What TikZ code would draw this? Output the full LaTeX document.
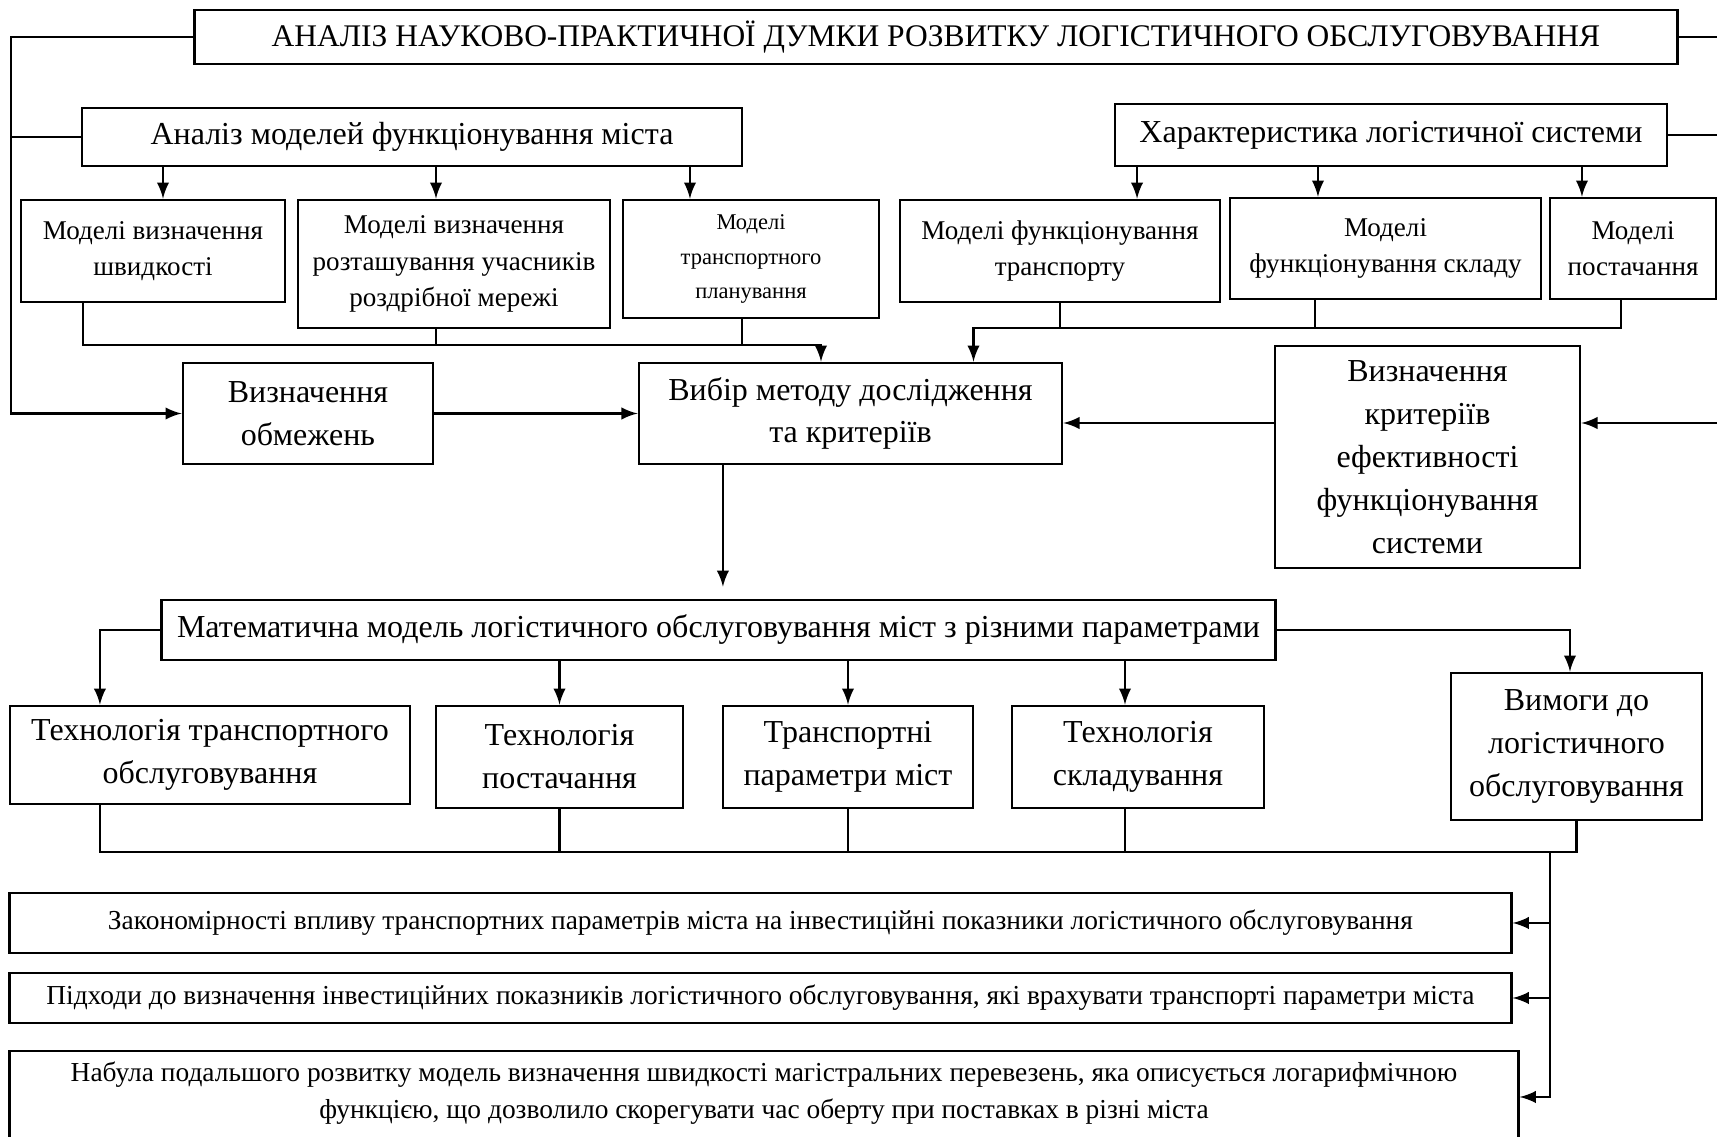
\documentclass[tikz,border=0pt]{standalone}
\usepackage{fontspec}
\setmainfont{Liberation Serif}
\begin{document}
\begin{tikzpicture}[x=0.01cm,y=-0.01cm,line width=0.6pt]
    \tikzstyle{every node}=[draw,rectangle,inner sep=0pt,align=center,line width=0.7pt]
    \tikzstyle{titletext}=[font=\fontsize{8.95}{11}\selectfont]
    \tikzstyle{bigtext}=[font=\fontsize{9.1}{12.2}\selectfont]
    \tikzstyle{midtext}=[font=\fontsize{7.7}{10.4}\selectfont]
    \tikzstyle{smalltext}=[font=\fontsize{6.4}{9.8}\selectfont]
    \tikzstyle{lowtext}=[font=\fontsize{7.8}{10.5}\selectfont]
    \useasboundingbox (0,0) rectangle (1717,1137);
    \draw (936,37) node[titletext,minimum width=14.82cm,minimum height=0.54cm] (1) {АНАЛІЗ НАУКОВО-ПРАКТИЧНОЇ ДУМКИ РОЗВИТКУ ЛОГІСТИЧНОГО ОБСЛУГОВУВАННЯ};
    \draw (412,137) node[bigtext,minimum width=6.60cm,minimum height=0.58cm] (2) {Аналіз моделей функціонування міста};
    \draw (1391,135) node[bigtext,minimum width=5.52cm,minimum height=0.62cm] (3) {Характеристика логістичної системи};
    \draw (153,251) node[midtext,minimum width=2.64cm,minimum height=1.02cm] (4) {Моделі визначення\\швидкості};
    \draw (454,264) node[midtext,minimum width=3.12cm,minimum height=1.28cm] (5) {Моделі визначення\\розташування учасників\\роздрібної мережі};
    \draw (751,259) node[smalltext,minimum width=2.56cm,minimum height=1.18cm] (6) {Моделі\\транспортного\\планування};
    \draw (1060,251) node[midtext,minimum width=3.20cm,minimum height=1.02cm] (7) {Моделі функціонування\\транспорту};
    \draw (1385.5,248.5) node[midtext,minimum width=3.11cm,minimum height=1.01cm] (8) {Моделі\\функціонування складу};
    \draw (1633,248.5) node[midtext,minimum width=1.66cm,minimum height=1.01cm] (9) {Моделі\\постачання};
    \draw (308,413.5) node[bigtext,minimum width=2.50cm,minimum height=1.01cm] (10) {Визначення\\обмежень};
    \draw (850.5,413.5) node[bigtext,minimum width=4.23cm,minimum height=1.01cm] (11) {Вибір методу дослідження\\та критеріїв};
    \draw (1427.5,457) node[bigtext,minimum width=3.05cm,minimum height=2.22cm] (12) {Визначення\\критеріїв\\ефективності\\функціонування\\системи};
    %%%%%
    \draw (718.5,630) node[bigtext,minimum width=11.13cm,minimum height=0.60cm] (13) {Математична модель логістичного обслуговування міст з різними параметрами};
    \draw (210,755) node[bigtext,minimum width=4.00cm,minimum height=0.98cm] (14) {Технологія транспортного\\обслуговування};
    \draw (559.5,757) node[bigtext,minimum width=2.47cm,minimum height=1.02cm] (15) {Технологія\\постачання};
    \draw (848,757) node[bigtext,minimum width=2.50cm,minimum height=1.02cm] (16) {Транспортні\\параметри міст};
    \draw (1138,757) node[bigtext,minimum width=2.52cm,minimum height=1.02cm] (17) {Технологія\\складування};
    \draw (1576.5,746.5) node[bigtext,minimum width=2.51cm,minimum height=1.47cm] (18) {Вимоги до\\логістичного\\обслуговування};
    %%%%%
    \draw (760.5,923) node[lowtext,minimum width=15.01cm,minimum height=0.60cm] (19) {Закономірності впливу транспортних параметрів міста на інвестиційні показники логістичного обслуговування};
    \draw (760.5,998) node[lowtext,minimum width=15.01cm,minimum height=0.50cm] (20) {Підходи до визначення інвестиційних показників логістичного обслуговування, які врахувати транспорті параметри міста};
    \draw (764,1050) node[lowtext,anchor=north,minimum width=15.08cm,inner ysep=3pt,text depth=2cm] (21) {Набула подальшого розвитку модель визначення швидкості магістральних перевезень, яка описується логарифмічною\\функцією, що дозволило скорегувати час оберту при поставках в різні міста};
    %%%%% side rails
    \coordinate (c1) at (11,37);
    \coordinate (c2) at (1717,37);
    \coordinate (c3) at (1717,135);
    \coordinate (c4) at (1717,423);
    \draw[-latex] (1.west) -- (c1) |- (10.west);
    \draw (2.west) -- (2.west -| c1);
    \draw (1.east) -- (c2);
    \draw (3.east) -- (c3);
    \draw[-latex] (c4) -- (12.east |- c4);
    \draw[-latex] (12.west |- c4) -- (11.east |- c4);
    %%%%% models
    \draw[-latex] ([xshift=0.1cm]4.north |- 2.south) -- ([xshift=0.1cm]4.north);
    \draw[-latex] ([xshift=-0.18cm]5.north |- 2.south) -- ([xshift=-0.18cm]5.north);
    \draw[-latex] ([xshift=-0.61cm]6.north |- 2.south) -- ([xshift=-0.61cm]6.north);
    \draw[-latex] ([xshift=0.77cm]7.north |- 3.south) -- ([xshift=0.77cm]7.north);
    \draw[-latex] ([xshift=-0.675cm]8.north |- 3.south) -- ([xshift=-0.675cm]8.north);
    \draw[-latex] ([xshift=-0.51cm]9.north |- 3.south) -- ([xshift=-0.51cm]9.north);
    \coordinate (b1) at (821,345);
    \draw[-latex] ([xshift=-0.7cm]4.south) |- (b1) -- (b1 |- 11.north);
    \draw ([xshift=-0.18cm]5.south) -- ([xshift=-0.18cm]5.south |- b1);
    \draw ([xshift=-0.09cm]6.south) -- ([xshift=-0.09cm]6.south |- b1);
    \coordinate (b2) at (973.5,328);
    \draw[-latex] ([xshift=-0.12cm]9.south) |- (b2) -- (b2 |- 11.north);
    \draw (7.south) -- (7.south |- b2);
    \draw ([xshift=-0.705cm]8.south) -- ([xshift=-0.705cm]8.south |- b2);
    \draw[-latex] (10) -- (11);
    \draw[-latex,shorten >=0.12cm] ([xshift=-1.275cm]11.south) -- ([xshift=-1.275cm]11.south |- 13.north);
    %%%%% model outputs
    \draw[-latex] (13.west) -| ([xshift=-1.1cm]14.north);
    \draw[-latex] (13.south -| 15.north) -- (15.north);
    \draw[-latex] (13.south -| 16.north) -- (16.north);
    \draw[-latex] ([xshift=-0.13cm]17.north |- 13.south) -- ([xshift=-0.13cm]17.north);
    \draw[-latex] (13.east) -| ([xshift=-0.065cm]18.north);
    \coordinate (b3) at (1576.5,852);
    \draw ([xshift=-1.1cm]14.south) |- (b3) -- (18.south);
    \draw (15.south) -- (15.south |- b3);
    \draw (16.south) -- (16.south |- b3);
    \draw ([xshift=-0.13cm]17.south) -- ([xshift=-0.13cm]17.south |- b3);
    %%%%% results
    \coordinate (b4) at (1550,852);
    \coordinate (c5) at (1550,1097);
    \draw[-latex] (b4) |- (19.east);
    \draw[-latex] (b4) |- (20.east);
    \draw[-latex] (b4) -- (c5) -- (c5 -| 21.east);
\end{tikzpicture}
\end{document}
